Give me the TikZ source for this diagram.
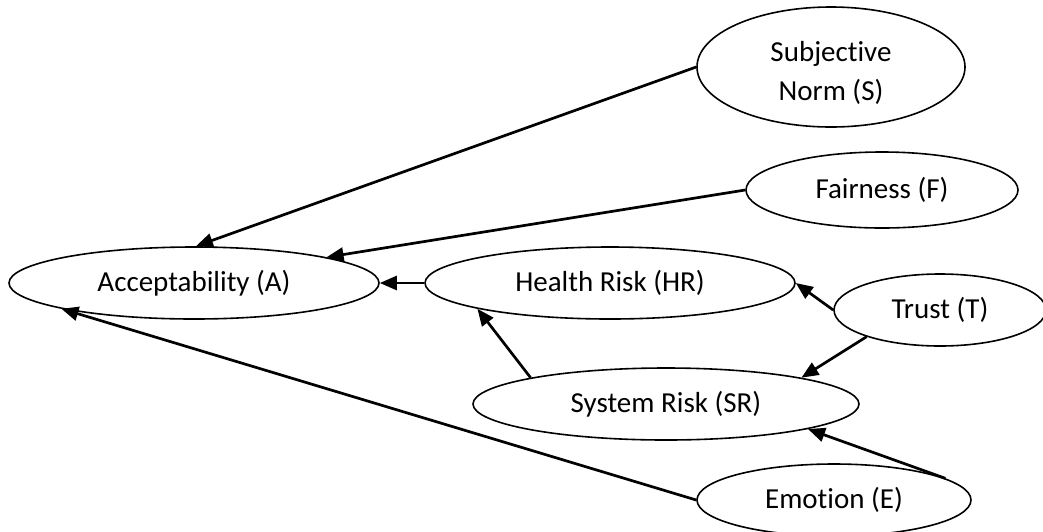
\documentclass[tikz,border=0pt]{standalone}
\usepackage{fontspec}
\setmainfont[Ligatures={NoCommon}]{Carlito}
\usetikzlibrary{shapes.geometric,arrows.meta}
\begin{document}
\begin{tikzpicture}[x=1pt,y=-1pt,
  construct/.style={draw=black, line width=1.6pt, ellipse, inner sep=0pt,
    font=\fontsize{29}{39}\selectfont, align=center},
  caption/.style={inner sep=0pt, font=\fontsize{29}{39}\selectfont, align=center},
  link/.style={draw=black, line width=2.7pt,
    -{Triangle[length=17pt,width=14pt]}}]
  % canvas
  \fill[white] (0,0) rectangle (1043,531);
  \useasboundingbox (0,0) rectangle (1043,531);
  \begin{scope}
  \clip (0,0) rectangle (1043,531);
  % constructs
  \node[construct, minimum width=370pt, minimum height=72pt] (A)  at (194,283) {Acceptability (A)};
  \node[construct, minimum width=370pt, minimum height=72pt] (HR) at (610,283) {Health Risk (HR)};
  \node[construct, minimum width=268pt, minimum height=120pt] (S) at (831,67) {};
  \node[caption] (Stext) at (831,73) {Subjective\\Norm (S)};
  \node[construct, minimum width=272pt, minimum height=76pt] (F)  at (882,190) {Fairness (F)};
  \node[construct, minimum width=212pt, minimum height=72pt] (T)  at (940,310) {Trust (T)};
  \node[construct, minimum width=386pt, minimum height=72pt] (SR) at (666,404) {System Risk (SR)};
  \node[construct, minimum width=274pt, minimum height=72pt] (E)  at (834,500) {Emotion (E)};
  % paths
  \draw[link] (S.west)  -- (A.87);
  \draw[link] (F.west)  -- (A.11);
  \draw[link] (HR.west) -- (A.east);
  \draw[link] (T.west)  -- (HR.east);
  \draw[link] (T.200)   -- (SR.11);
  \draw[link] (SR.169)  -- (HR.191);
  \draw[link] (E.11)    -- (SR.350);
  \draw[link] (E.west)  -- (A.191);
  \end{scope}
\end{tikzpicture}
\end{document}
